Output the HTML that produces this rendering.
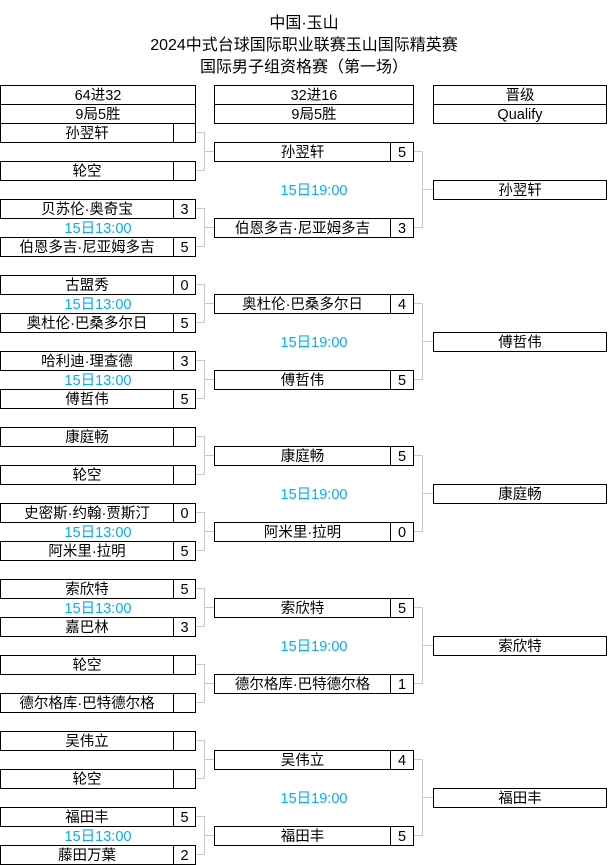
<!DOCTYPE html>
<html><head><meta charset="utf-8"><style>
body{margin:0;width:608px;height:865px;overflow:hidden;background:#fff;position:relative;font-family:"Liberation Sans","Noto Sans CJK SC",sans-serif;font-size:14.5px;color:#000}
div{position:absolute;box-sizing:border-box}
.c{border:1px solid #000;height:20px;line-height:20px;text-align:center;white-space:nowrap;overflow:hidden}
.t{color:#00b0f0;height:19px;line-height:22px;text-align:center}
.k{border:1px solid #c8c8c8;border-left:none;width:9px}
.h{height:1px;background:#c8c8c8}
.ti{left:0;width:608px;text-align:center;font-size:16px;line-height:22px}
</style></head><body>
<div class="ti" style="top:13px">中国·玉山</div>
<div class="ti" style="top:35px">2024中式台球国际职业联赛玉山国际精英赛</div>
<div class="ti" style="top:57px">国际男子组资格赛（第一场）</div>

<div class="c" style="left:0;width:196px;top:85px">64进32</div>
<div class="c" style="left:0;width:196px;top:104px">9局5胜</div>
<div class="c" style="left:214px;width:200px;top:85px">32进16</div>
<div class="c" style="left:214px;width:200px;top:104px">9局5胜</div>
<div class="c" style="left:433px;width:174px;top:85px">晋级</div>
<div class="c" style="left:433px;width:174px;top:104px">Qualify</div>

<div class="c" style="left:0;width:174px;top:123px">孙翌轩</div><div class="c" style="left:173px;width:23px;top:123px"></div>
<div class="c" style="left:0;width:174px;top:161px">轮空</div><div class="c" style="left:173px;width:23px;top:161px"></div>

<div class="c" style="left:0;width:174px;top:199px">贝苏伦·奥奇宝</div><div class="c" style="left:173px;width:23px;top:199px">3</div>
<div class="t" style="left:0;width:196px;top:218px">15日13:00</div>
<div class="c" style="left:0;width:174px;top:237px">伯恩多吉·尼亚姆多吉</div><div class="c" style="left:173px;width:23px;top:237px">5</div>

<div class="c" style="left:0;width:174px;top:275px">古盟秀</div><div class="c" style="left:173px;width:23px;top:275px">0</div>
<div class="t" style="left:0;width:196px;top:294px">15日13:00</div>
<div class="c" style="left:0;width:174px;top:313px">奥杜伦·巴桑多尔日</div><div class="c" style="left:173px;width:23px;top:313px">5</div>

<div class="c" style="left:0;width:174px;top:351px">哈利迪·理查德</div><div class="c" style="left:173px;width:23px;top:351px">3</div>
<div class="t" style="left:0;width:196px;top:370px">15日13:00</div>
<div class="c" style="left:0;width:174px;top:389px">傅哲伟</div><div class="c" style="left:173px;width:23px;top:389px">5</div>

<div class="c" style="left:0;width:174px;top:427px">康庭畅</div><div class="c" style="left:173px;width:23px;top:427px"></div>
<div class="c" style="left:0;width:174px;top:465px">轮空</div><div class="c" style="left:173px;width:23px;top:465px"></div>

<div class="c" style="left:0;width:174px;top:503px">史密斯·约翰·贾斯汀</div><div class="c" style="left:173px;width:23px;top:503px">0</div>
<div class="t" style="left:0;width:196px;top:522px">15日13:00</div>
<div class="c" style="left:0;width:174px;top:541px">阿米里·拉明</div><div class="c" style="left:173px;width:23px;top:541px">5</div>

<div class="c" style="left:0;width:174px;top:579px">索欣特</div><div class="c" style="left:173px;width:23px;top:579px">5</div>
<div class="t" style="left:0;width:196px;top:598px">15日13:00</div>
<div class="c" style="left:0;width:174px;top:617px">嘉巴林</div><div class="c" style="left:173px;width:23px;top:617px">3</div>

<div class="c" style="left:0;width:174px;top:655px">轮空</div><div class="c" style="left:173px;width:23px;top:655px"></div>
<div class="c" style="left:0;width:174px;top:693px">德尔格库·巴特德尔格</div><div class="c" style="left:173px;width:23px;top:693px"></div>

<div class="c" style="left:0;width:174px;top:731px">吴伟立</div><div class="c" style="left:173px;width:23px;top:731px"></div>
<div class="c" style="left:0;width:174px;top:769px">轮空</div><div class="c" style="left:173px;width:23px;top:769px"></div>

<div class="c" style="left:0;width:174px;top:807px">福田丰</div><div class="c" style="left:173px;width:23px;top:807px">5</div>
<div class="t" style="left:0;width:196px;top:826px">15日13:00</div>
<div class="c" style="left:0;width:174px;top:845px">藤田万葉</div><div class="c" style="left:173px;width:23px;top:845px">2</div>

<div class="k" style="left:196px;top:132px;height:39px"></div><div class="h" style="left:204px;width:10px;top:151px"></div>
<div class="k" style="left:196px;top:208px;height:39px"></div><div class="h" style="left:204px;width:10px;top:227px"></div>
<div class="k" style="left:196px;top:284px;height:39px"></div><div class="h" style="left:204px;width:10px;top:303px"></div>
<div class="k" style="left:196px;top:360px;height:39px"></div><div class="h" style="left:204px;width:10px;top:379px"></div>
<div class="k" style="left:196px;top:436px;height:39px"></div><div class="h" style="left:204px;width:10px;top:455px"></div>
<div class="k" style="left:196px;top:512px;height:39px"></div><div class="h" style="left:204px;width:10px;top:531px"></div>
<div class="k" style="left:196px;top:588px;height:39px"></div><div class="h" style="left:204px;width:10px;top:607px"></div>
<div class="k" style="left:196px;top:664px;height:39px"></div><div class="h" style="left:204px;width:10px;top:683px"></div>
<div class="k" style="left:196px;top:740px;height:39px"></div><div class="h" style="left:204px;width:10px;top:759px"></div>
<div class="k" style="left:196px;top:816px;height:39px"></div><div class="h" style="left:204px;width:10px;top:835px"></div>

<div class="c" style="left:214px;width:177px;top:142px">孙翌轩</div><div class="c" style="left:390px;width:24px;top:142px">5</div>
<div class="t" style="left:214px;width:200px;top:180px">15日19:00</div>
<div class="c" style="left:214px;width:177px;top:218px">伯恩多吉·尼亚姆多吉</div><div class="c" style="left:390px;width:24px;top:218px">3</div>

<div class="c" style="left:214px;width:177px;top:294px">奥杜伦·巴桑多尔日</div><div class="c" style="left:390px;width:24px;top:294px">4</div>
<div class="t" style="left:214px;width:200px;top:332px">15日19:00</div>
<div class="c" style="left:214px;width:177px;top:370px">傅哲伟</div><div class="c" style="left:390px;width:24px;top:370px">5</div>

<div class="c" style="left:214px;width:177px;top:446px">康庭畅</div><div class="c" style="left:390px;width:24px;top:446px">5</div>
<div class="t" style="left:214px;width:200px;top:484px">15日19:00</div>
<div class="c" style="left:214px;width:177px;top:522px">阿米里·拉明</div><div class="c" style="left:390px;width:24px;top:522px">0</div>

<div class="c" style="left:214px;width:177px;top:598px">索欣特</div><div class="c" style="left:390px;width:24px;top:598px">5</div>
<div class="t" style="left:214px;width:200px;top:636px">15日19:00</div>
<div class="c" style="left:214px;width:177px;top:674px">德尔格库·巴特德尔格</div><div class="c" style="left:390px;width:24px;top:674px">1</div>

<div class="c" style="left:214px;width:177px;top:750px">吴伟立</div><div class="c" style="left:390px;width:24px;top:750px">4</div>
<div class="t" style="left:214px;width:200px;top:788px">15日19:00</div>
<div class="c" style="left:214px;width:177px;top:826px">福田丰</div><div class="c" style="left:390px;width:24px;top:826px">5</div>

<div class="k" style="left:414px;top:151px;height:77px"></div><div class="h" style="left:422px;width:11px;top:189px"></div>
<div class="k" style="left:414px;top:303px;height:77px"></div><div class="h" style="left:422px;width:11px;top:341px"></div>
<div class="k" style="left:414px;top:455px;height:77px"></div><div class="h" style="left:422px;width:11px;top:493px"></div>
<div class="k" style="left:414px;top:607px;height:77px"></div><div class="h" style="left:422px;width:11px;top:645px"></div>
<div class="k" style="left:414px;top:759px;height:77px"></div><div class="h" style="left:422px;width:11px;top:797px"></div>

<div class="c" style="left:433px;width:174px;top:180px">孙翌轩</div>
<div class="c" style="left:433px;width:174px;top:332px">傅哲伟</div>
<div class="c" style="left:433px;width:174px;top:484px">康庭畅</div>
<div class="c" style="left:433px;width:174px;top:636px">索欣特</div>
<div class="c" style="left:433px;width:174px;top:788px">福田丰</div>
</body></html>
